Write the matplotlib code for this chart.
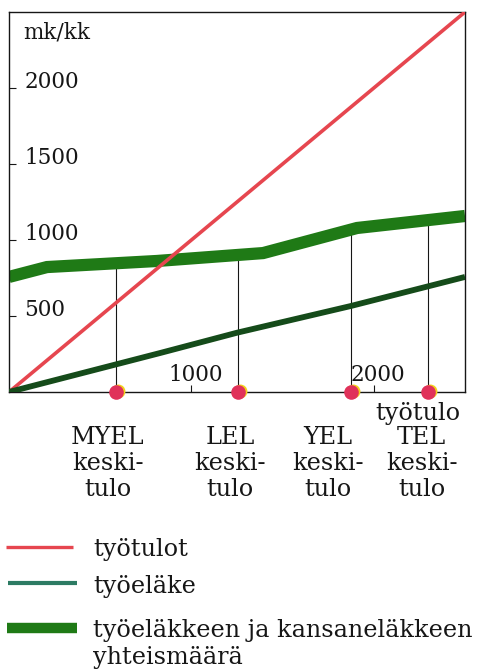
import numpy as np
import matplotlib
matplotlib.use("Agg")
import matplotlib.pyplot as plt
from matplotlib.lines import Line2D
from matplotlib.transforms import offset_copy

plt.rcParams['font.family'] = ['DejaVu Serif']

# data (mk/kk)
income_x = [0, 2500]
income_y = [0, 2500]                       # työtulot
pension_x = [0, 830, 1250, 1875, 2500]
pension_y = [0, 257, 390, 566, 757]        # työeläke
total_x = [0, 208, 811, 1393, 1908, 2500]
total_y = [757, 822, 862, 914, 1079, 1158]  # työeläke + kansaneläke
groups = ["MYEL", "LEL", "YEL", "TEL"]
group_income = [587, 1255, 1875, 2297]      # keskitulo
y_ticks = [500, 1000, 1500, 2000]
x_ticks = [1000, 2000]

RED = "#e6464f"
DARK = "#154b1a"
GREEN = "#1f7a16"
DOT = "#e0325a"
INK = "#161616"

W, H = 479, 670
fig = plt.figure(figsize=(W / 100, H / 100), dpi=100)
ax = fig.add_axes([9 / W, 1 - 392 / H, 456 / W, 380 / H])
ax.set_xlim(0, 2500)
ax.set_ylim(0, 2500)

# vertical guides from each average income up to the band
for gx in group_income:
    ax.plot([gx, gx], [0, np.interp(gx, total_x, total_y)], color=INK, lw=0.8, zorder=1)

ax.plot(income_x, income_y, color=RED, lw=2.6, zorder=3, solid_capstyle='butt')
ax.plot(pension_x, pension_y, color=DARK, lw=4.2, zorder=3, solid_capstyle='butt')
ax.plot(total_x, total_y, color=GREEN, lw=8.8, zorder=2, solid_capstyle='butt',
        solid_joinstyle='miter')
# dots with a slight yellow print shadow
shadow = offset_copy(ax.transData, fig=fig, x=2, y=1.5, units='dots')
ax.plot(group_income, [0] * len(group_income), 'o', ms=10, color="#f2d21c", mec='none',
        zorder=4, clip_on=False, transform=shadow)
ax.plot(group_income, [0] * len(group_income), 'o', ms=10.5, color=DOT, mec='none',
        zorder=5, clip_on=False)

for s in ax.spines.values():
    s.set_color(INK)
    s.set_linewidth(1.0)

ax.set_yticks(y_ticks)
ax.set_xticks(x_ticks)
ax.tick_params(direction='in', length=5, width=0.8, color=INK,
               labelleft=False, labelbottom=False)

fs = 17.2
for v in y_ticks:
    ax.text(0.034, v, str(v), transform=ax.get_yaxis_transform(), fontsize=15.5,
            color=INK, va='baseline', ha='left')
for v in x_ticks:
    ax.text(v + 25, 40, str(v), fontsize=15.5, color=INK, va='bottom', ha='center')
ax.text(0.032, 0.945, "mk/kk", transform=ax.transAxes, fontsize=15.5, color=INK,
        va='center', ha='left')

# labels below the axis
label_x = [543, 1212, 1749, 2262]
xt = ax.get_xaxis_transform()
for name, lx in zip(groups, label_x):
    ax.text(lx, -0.09, name + "\nkeski-\ntulo", transform=xt, fontsize=fs,
            color=INK, ha='center', va='top', linespacing=1.16)
ax.text(2242, -0.027, "työtulo", transform=xt, fontsize=fs, color=INK,
        ha='center', va='top')

# legend drawn by hand
def fx(px):
    return px / W

def fy(py):
    return 1 - py / H

legend = [
    ("työtulot", RED, 2.4, 6, 73, 547, 556),
    ("työeläke", "#2c7b63", 3.0, 8, 77, 583, 593),
    ("työeläkkeen ja kansaneläkkeen", GREEN, 7.5, 7, 77, 628, 637),
]
for label, col, lw, x0, x1, y, base in legend:
    fig.add_artist(Line2D([fx(x0), fx(x1)], [fy(y), fy(y)], color=col, lw=lw,
                          solid_capstyle='butt', transform=fig.transFigure))
    fig.text(fx(93), fy(base), label, fontsize=fs, color=INK, va='baseline')
fig.text(fx(93), fy(664), "yhteismäärä", fontsize=fs, color=INK, va='baseline')

fig.savefig("out.png", dpi=100, facecolor='white')
